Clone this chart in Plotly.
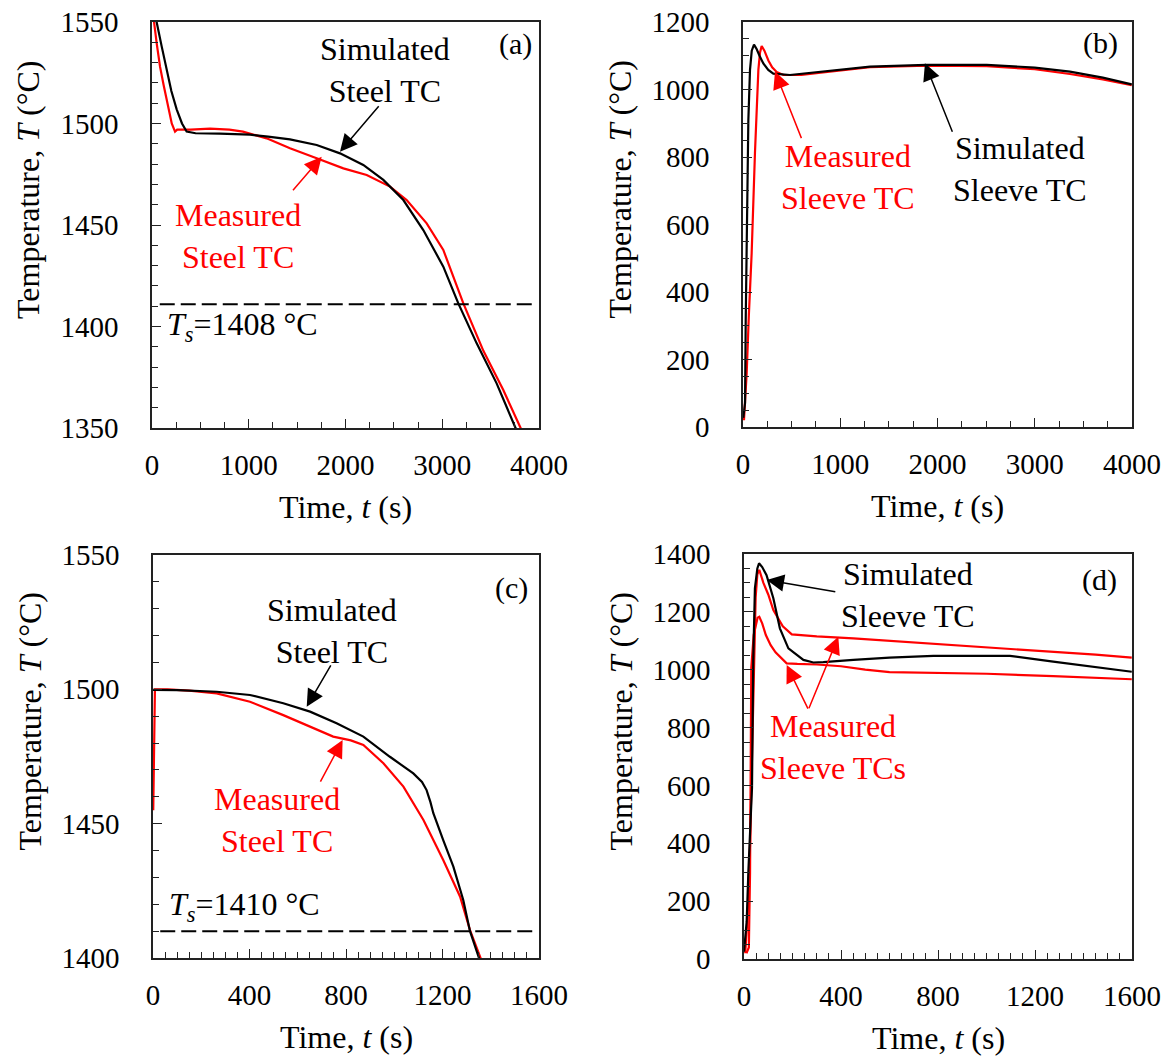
import plotly.graph_objects as go

# ---------------- data ----------------
# (a) steel TC, long run
a_sim_t = [35, 48, 100, 150, 200, 255, 310, 358, 450, 700, 1013, 1200, 1426, 1702, 1943, 2184, 2391, 2598, 2804, 3011, 3166, 3356, 3562, 3752, 3800]
a_sim_T = [1557, 1550, 1538, 1527, 1516, 1507, 1500, 1496, 1495.2, 1495, 1494.5, 1493.5, 1492.2, 1489.4, 1485.3, 1479.6, 1472.2, 1462.3, 1447.5, 1429.5, 1411.4, 1391.7, 1372, 1350.6, 1346]
a_mea_t = [10, 21, 50, 83, 120, 152, 204, 238, 260, 400, 600, 800, 940, 1185, 1426, 1702, 1978, 2219, 2460, 2632, 2839, 3011, 3218, 3425, 3631, 3804, 3850]
a_mea_T = [1556, 1550, 1539, 1528, 1519, 1511.6, 1500, 1496, 1497, 1497, 1497.5, 1497, 1496, 1492.7, 1487.8, 1482.9, 1477.9, 1474.6, 1468.9, 1462.3, 1450.8, 1437.7, 1411.4, 1388, 1368.7, 1350.6, 1346]
a_ts_line = 1411
a_ts_label = "1408"

# (b) sleeve TC, long run
b_sim_t = [3, 21, 28, 44, 55, 72, 90, 113, 140, 170, 209, 260, 312, 483, 792, 1306, 1889, 2506, 3000, 3362, 3700, 3997]
b_sim_T = [27, 71, 317, 712, 909, 1058, 1115, 1133, 1120, 1100, 1077, 1058, 1047, 1043, 1053, 1068, 1073, 1073, 1065, 1053, 1035, 1015]
b_mea_t = [10, 38, 60, 89, 123, 140, 158, 175, 192, 220, 261, 300, 346, 415, 600, 800, 1306, 1889, 2506, 3000, 3362, 3700, 3997]
b_mea_T = [20, 160, 330, 515, 812, 950, 1058, 1110, 1129, 1115, 1086, 1066, 1052, 1043, 1043, 1050, 1066, 1071, 1069, 1060, 1046, 1030, 1013]

# (c) steel TC, short run
c_sim_t = [0, 8, 100, 264, 402, 540, 651, 761, 872, 982, 1079, 1115, 1134, 1150, 1162, 1203, 1245, 1286, 1314, 1355, 1380]
c_sim_T = [1499.8, 1499.8, 1499.7, 1499.1, 1497.9, 1494.8, 1491.7, 1487.4, 1482.4, 1474.9, 1468.7, 1465.5, 1462.5, 1458, 1453.9, 1443.9, 1434, 1421.6, 1410, 1399, 1393]
c_mea_t = [1, 4, 8, 60, 150, 264, 402, 540, 651, 747, 820, 872, 955, 1038, 1121, 1203, 1273, 1314, 1362, 1380]
c_mea_T = [1455, 1480, 1500, 1500, 1499.5, 1498.5, 1495.4, 1490.4, 1486.1, 1482.4, 1481, 1479.3, 1472.5, 1463.8, 1451.4, 1436.5, 1422.8, 1410.4, 1399, 1394]
c_ts_line = 1410
c_ts_label = "1410"

# (d) sleeve TCs, short run
d_sim_t = [0, 11, 18, 25, 33, 38, 45, 55, 62, 75, 93, 121, 148, 183, 245, 286, 327, 451, 600, 781, 1097, 1275, 1450, 1599]
d_sim_T = [25, 129, 302, 450, 591, 1028, 1281, 1350, 1368, 1355, 1327, 1247, 1143, 1074, 1034, 1025, 1026, 1034, 1042, 1048, 1048, 1028, 1010, 993]
d_mea1_t = [5, 15, 25, 33, 40, 48, 55, 63, 80, 100, 121, 160, 197, 300, 451, 600, 864, 1100, 1275, 1450, 1599]
d_mea1_T = [20, 150, 400, 700, 1000, 1250, 1330, 1345, 1300, 1260, 1206, 1150, 1122, 1115, 1108, 1100, 1085, 1072, 1062, 1052, 1042]
d_mea2_t = [10, 20, 25, 27, 30, 40, 48, 56, 63, 75, 90, 110, 130, 160, 176, 220, 300, 400, 500, 600, 800, 1001, 1275, 1599]
d_mea2_T = [20, 40, 300, 1000, 1006, 1120, 1150, 1180, 1183, 1160, 1120, 1085, 1060, 1035, 1022, 1020, 1018, 1012, 1000, 992, 990, 986, 978, 967]

# ---------------- figure ----------------
OFF = 8                      # page body margin offset
W, H = 1169 - OFF, 1057 - OFF
FONT = "Liberation Serif"
RED = "#ff0000"
BLK = "#000000"

fig = go.Figure()

def px2paper_x(p):
    return (p - OFF) / W

def px2paper_y(p):
    return 1 - (p - OFF) / H

# panel boxes in window pixels: (left, top, right, bottom)
boxes = {
    "a": (152, 22, 539, 428),
    "b": (743, 22, 1132, 427),
    "c": (153, 555, 539, 958),
    "d": (744, 554, 1132, 959),
}
axes_ids = {"a": ("x", "y"), "b": ("x2", "y2"), "c": ("x3", "y3"), "d": ("x4", "y4")}

def add_line(panel, t, T, color):
    xa, ya = axes_ids[panel]
    fig.add_trace(go.Scatter(x=t, y=T, mode="lines", xaxis=xa, yaxis=ya,
                             line=dict(color=color, width=2.2), showlegend=False,
                             hoverinfo="skip"))

add_line("a", a_mea_t, a_mea_T, RED)
add_line("a", a_sim_t, a_sim_T, BLK)
add_line("b", b_mea_t, b_mea_T, RED)
add_line("b", b_sim_t, b_sim_T, BLK)
add_line("c", c_mea_t, c_mea_T, RED)
add_line("c", c_sim_t, c_sim_T, BLK)
add_line("d", d_mea1_t, d_mea1_T, RED)
add_line("d", d_mea2_t, d_mea2_T, RED)
add_line("d", d_sim_t, d_sim_T, BLK)

xcfg = {
    "a": dict(range=[0, 4000], dtick=1000, minor=250),
    "b": dict(range=[0, 4000], dtick=1000, minor=250),
    "c": dict(range=[0, 1600], dtick=400, minor=50),
    "d": dict(range=[0, 1600], dtick=400, minor=50),
}
ycfg = {
    "a": dict(range=[1350, 1550], dtick=50, minor=10),
    "b": dict(range=[0, 1200], dtick=200, minor=50),
    "c": dict(range=[1400, 1550], dtick=50, minor=10),
    "d": dict(range=[0, 1400], dtick=200, minor=50),
}

layout_axes = {}
for i, p in enumerate(["a", "b", "c", "d"]):
    l, t, r, b = boxes[p]
    suffix = "" if i == 0 else str(i + 1)
    xa = "x" + suffix
    ya = "y" + suffix
    common = dict(showline=True, mirror=True, linecolor="#222", linewidth=1.5,
                  ticks="inside", ticklen=9, tickwidth=1.3, tickcolor="#222",
                  showgrid=False, zeroline=False, automargin=False,
                  ticklabeloverflow="allow",
                  tickfont=dict(family=FONT, size=29, color="black"))
    layout_axes["xaxis" + suffix] = dict(
        common, domain=[px2paper_x(l), px2paper_x(r)], range=xcfg[p]["range"],
        tick0=0, dtick=xcfg[p]["dtick"], anchor=ya, ticklabelstandoff=10,
        minor=dict(ticks="inside", dtick=xcfg[p]["minor"], ticklen=6, tickwidth=1.2,
                   tickcolor="#222", showgrid=False))
    layout_axes["yaxis" + suffix] = dict(
        common, domain=[px2paper_y(b), px2paper_y(t)], range=ycfg[p]["range"],
        tick0=0, dtick=ycfg[p]["dtick"], anchor=xa, ticklabelstandoff=26,
        minor=dict(ticks="inside", dtick=ycfg[p]["minor"], ticklen=6, tickwidth=1.2,
                   tickcolor="#222", showgrid=False))

annotations = []

def txt(panel, x, y, text, color=BLK, size=32, xanchor="center"):
    xa, ya = axes_ids[panel]
    annotations.append(dict(x=x, y=y, xref=xa, yref=ya, text=text, showarrow=False,
                            xanchor=xanchor, yanchor="middle",
                            font=dict(family=FONT, size=size, color=color)))

def arrow(panel, x, y, ax, ay, color):
    xa, ya = axes_ids[panel]
    annotations.append(dict(x=x, y=y, xref=xa, yref=ya, ax=ax, ay=ay, text="",
                            showarrow=True, arrowhead=2, arrowsize=2.3, arrowwidth=1.5,
                            arrowcolor=color, standoff=0, startstandoff=0))

# axis titles
for p in ["a", "b", "c", "d"]:
    l, t, r, b = boxes[p]
    annotations.append(dict(x=px2paper_x((l + r) / 2), y=px2paper_y(b + 79), xref="paper", yref="paper",
                            text="Time, <i>t</i> (s)", showarrow=False, xanchor="center", yanchor="middle",
                            font=dict(family=FONT, size=32, color="black")))
    annotations.append(dict(x=px2paper_x(l - 124), y=px2paper_y((t + b) / 2 - 35), xref="paper", yref="paper",
                            text="Temperature, <i>T</i> (°C)", showarrow=False, textangle=-90,
                            xanchor="center", yanchor="middle",
                            font=dict(family=FONT, size=32, color="black")))

# panel (a)
txt("a", 3752, 1539, "(a)", size=30)
txt("a", 2408, 1526.4, "Simulated<br>Steel TC")
txt("a", 889, 1444.6, "Measured<br>Steel TC", color=RED)
txt("a", 134, 1400.2, "<i>T</i><sub><i>s</i></sub>=" + a_ts_label + " °C", xanchor="left")
arrow("a", 1943, 1486.1, 40, -47, BLK)
arrow("a", 1754, 1483.6, -30, 35, RED)

# panel (b)
txt("b", 3671, 1138, "(b)", size=30)
txt("b", 1080, 741, "Measured<br>Sleeve TC", color=RED)
txt("b", 2848, 765, "Simulated<br>Sleeve TC")
arrow("b", 329, 1053, 27, 68, RED)
arrow("b", 1871, 1078, 28, 70, BLK)

# panel (c)
txt("c", 1486, 1537.7, "(c)", size=30)
txt("c", 741, 1521.7, "Simulated<br>Steel TC")
txt("c", 513, 1451.4, "Measured<br>Steel TC", color=RED)
txt("c", 57, 1419.1, "<i>T</i><sub><i>s</i></sub>=" + c_ts_label + " °C", xanchor="left")
arrow("c", 637, 1493.5, 25, -43, BLK)
arrow("c", 786, 1481.1, -23, 43, RED)

# panel (d)
txt("d", 1468, 1310, "(d)", size=30)
txt("d", 678, 1258, "Simulated<br>Sleeve TC")
txt("d", 368, 734, "Measured<br>Sleeve TCs", color=RED)
arrow("d", 94, 1310, 70, 12, BLK)
arrow("d", 176, 1016, 22, 45, RED)
arrow("d", 389, 1114, -30, 73, RED)

shapes = [
    dict(type="line", xref="x", yref="y", x0=80, x1=3960, y0=a_ts_line, y1=a_ts_line,
         line=dict(color="black", width=2, dash="15px,6px")),
    dict(type="line", xref="x3", yref="y3", x0=30, x1=1590, y0=c_ts_line, y1=c_ts_line,
         line=dict(color="black", width=2, dash="15px,6px")),
]

fig.update_layout(width=W, height=H, margin=dict(l=0, r=0, t=0, b=0, autoexpand=False),
                  paper_bgcolor="white", plot_bgcolor="white",
                  font=dict(family=FONT),
                  annotations=annotations, shapes=shapes, showlegend=False,
                  **layout_axes)

fig.write_html("out.html")
